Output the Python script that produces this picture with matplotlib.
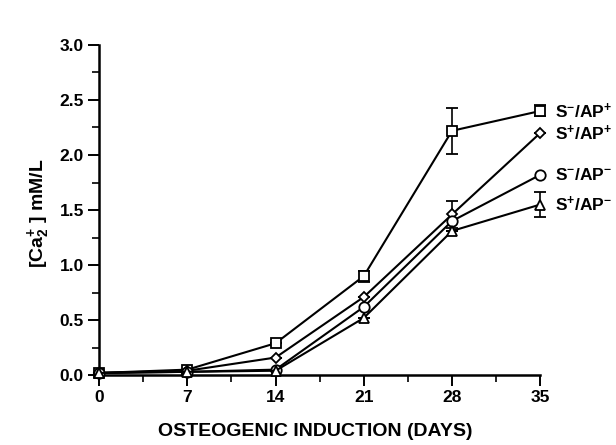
import matplotlib
matplotlib.use("Agg")
import matplotlib.pyplot as plt
from matplotlib.ticker import MultipleLocator

plt.rcParams["font.family"] = ["Liberation Sans", "DejaVu Sans"]
plt.rcParams["font.weight"] = "bold"
plt.rcParams["mathtext.fontset"] = "custom"
plt.rcParams["mathtext.rm"] = "Liberation Sans:bold"
plt.rcParams["mathtext.bf"] = "Liberation Sans:bold"
plt.rcParams["mathtext.it"] = "Liberation Sans:bold"

# Data
days = [0, 7, 14, 21, 28, 35]
sm_app = [0.02, 0.05, 0.29, 0.90, 2.22, 2.40]   # S-/AP+  (square)
sp_app = [0.02, 0.04, 0.16, 0.71, 1.46, 2.20]   # S+/AP+  (diamond)
sm_apm = [0.02, 0.03, 0.05, 0.62, 1.40, 1.82]   # S-/AP-  (circle)
sp_apm = [0.02, 0.03, 0.04, 0.52, 1.31, 1.55]   # S+/AP-  (triangle)

sm_app_err = [0, 0, 0, 0.05, 0.21, 0.05]
sp_app_err = [0, 0, 0, 0, 0.12, 0]
sp_apm_err = [0, 0, 0, 0, 0, 0.11]

labels = [r"S$^{\mathbf{-}}$/AP$^{\mathbf{+}}$", r"S$^{\mathbf{+}}$/AP$^{\mathbf{+}}$",
          r"S$^{\mathbf{-}}$/AP$^{\mathbf{-}}$", r"S$^{\mathbf{+}}$/AP$^{\mathbf{-}}$"]

fig = plt.figure(figsize=(6.16, 4.45), dpi=100)
ax = fig.add_axes([0.161, 0.157, 0.716, 0.742])

series = [
    (sm_app, sm_app_err, "s", 7.5),
    (sp_app, sp_app_err, "D", 5),
    (sm_apm, None, "o", 7.5),
    (sp_apm, sp_apm_err, "^", 7.5),
]
for (vals, err, mk, ms), lab in zip(series, labels):
    ax.errorbar(days, vals, yerr=err, color="black", lw=1.5, marker=mk,
                ms=ms, mfc="white", mec="black", mew=1.3, capsize=4,
                elinewidth=1.2, capthick=1.5, clip_on=False, zorder=3)
    ax.text(days[-1] + 1.2, vals[-1], lab, fontsize=12.5, fontweight="bold",
            va="center", ha="left")

ax.set_xlim(0, 35)
ax.set_ylim(0, 3.0)
ax.xaxis.set_major_locator(MultipleLocator(7))
ax.xaxis.set_minor_locator(MultipleLocator(3.5))
ax.yaxis.set_minor_locator(MultipleLocator(0.25))
ax.set_yticks([0, 0.5, 1.0, 1.5, 2.0, 2.5, 3.0])
ax.set_yticklabels(["0.0", "0.5", "1.0", "1.5", "2.0", "2.5", "3.0"])

for s in ["top", "right"]:
    ax.spines[s].set_visible(False)
for s in ["left", "bottom"]:
    ax.spines[s].set_linewidth(1.8)

ax.tick_params(which="major", direction="out", length=8, width=1.4,
               labelsize=12.5, pad=3)
ax.tick_params(which="minor", direction="out", length=5, width=1.2)
for lbl in ax.get_xticklabels() + ax.get_yticklabels():
    lbl.set_fontweight("bold")

fig.text(0.512, 0.03, "OSTEOGENIC INDUCTION (DAYS)", fontsize=14,
         fontweight="bold", ha="center", va="center")
fig.text(0.062, 0.52, r"[Ca$_{\mathbf{2}}^{\mathbf{+}}$ ] mM/L", fontsize=14,
         fontweight="bold", ha="center", va="center", rotation=90)

fig.savefig("out.png", dpi=100)
